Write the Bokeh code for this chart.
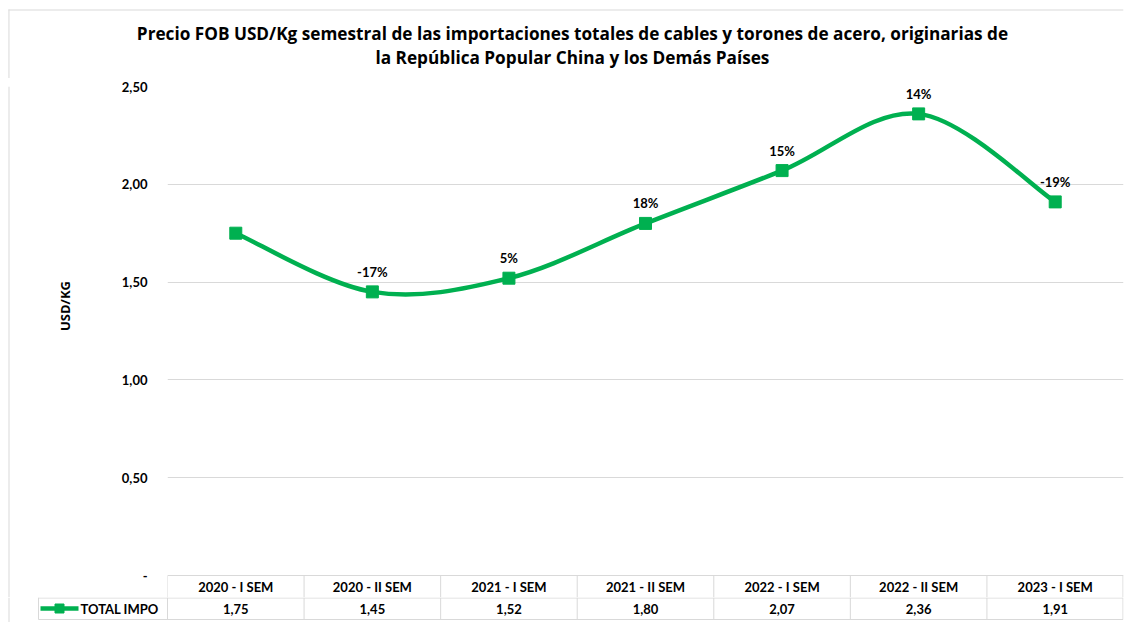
import math
from bokeh.plotting import figure
from bokeh.layouts import column, row
from bokeh.models import Range1d, FixedTicker, CustomJSTickFormatter, ColumnDataSource
from bokeh.embed import file_html
from bokeh.resources import INLINE
from bokeh.core.properties import value

# ---------------- data ----------------
categories = ["2020 - I SEM", "2020 - II SEM", "2021 - I SEM", "2021 - II SEM",
              "2022 - I SEM", "2022 - II SEM", "2023 - I SEM"]
values = [1.75, 1.45, 1.52, 1.80, 2.07, 2.36, 1.91]
changes = ["", "-17%", "5%", "18%", "15%", "14%", "-19%"]
series_name = "TOTAL IMPO"
y_ticks = [0.0, 0.5, 1.0, 1.5, 2.0, 2.5]
title_lines = ["Precio FOB USD/Kg semestral de las importaciones totales de cables y torones de acero, originarias de",
               "la República Popular China y los Demás Países"]
y_label = "USD/KG"

# ---------------- style ----------------
FONT = "Lato"
TFONT = "Open Sans"
GREEN = "#00B050"
GRID = "#d9d9d9"
TXT = "#000000"

TOTAL_W = 1128
TITLE_H = 78
MAIN_H = 519
TABLE_H = 25
YLAB_W = 88
FRAME_L, FRAME_R = 167, 1123
n = len(categories)
CW = (FRAME_R - FRAME_L) / n              # px per category
PLOT_PX = 489                             # px from 2.5 down to 0
PX = y_ticks[-1] / PLOT_PX                # data units per px
TOP_PAD = 8
main_frame_h = MAIN_H - TOP_PAD
y_start = -(main_frame_h - PLOT_PX) * PX
HDR_Y = y_start / 2

fmt_vals = [f"{v:.2f}".replace(".", ",") for v in values]


def bare(fig):
    fig.outline_line_color = None
    fig.background_fill_color = "white"
    fig.border_fill_color = "white"
    fig.xgrid.visible = False
    fig.ygrid.visible = False
    return fig


# ---------------- title strip ----------------
pt = bare(figure(width=TOTAL_W, height=TITLE_H, output_backend="svg", toolbar_location=None,
                 x_range=Range1d(0, TOTAL_W), y_range=Range1d(TITLE_H, 0),
                 x_axis_location=None, y_axis_location=None, min_border=0))
pt.text(x=[574.5, 574.5], y=[32.5, 56.5], text=title_lines, text_align="center",
        text_baseline="middle", text_font=value(TFONT), text_font_style="bold",
        text_font_size="17.2px", text_color=TXT)
pt.segment(x0=[8.5, 8], y0=[9, 9.5], x1=[8.5, TOTAL_W], y1=[TITLE_H, 9.5],
           line_color=GRID, line_width=1)

# ---------------- y-axis title strip ----------------
py = bare(figure(width=YLAB_W, height=MAIN_H, output_backend="svg", toolbar_location=None,
                 x_range=Range1d(0, YLAB_W), y_range=Range1d(MAIN_H, 0),
                 x_axis_location=None, y_axis_location=None, min_border=0))
py.text(x=[64], y=[301 - TITLE_H], text=[y_label], angle=math.pi / 2, text_align="center",
        text_baseline="middle", text_font=value(TFONT), text_font_style="bold",
        text_font_size="13px", text_color=TXT)
py.segment(x0=[8.5], y0=[0], x1=[8.5], y1=[MAIN_H], line_color=GRID, line_width=1)

# ---------------- main plot ----------------
xs = list(range(n))
p = bare(figure(width=TOTAL_W - YLAB_W, height=MAIN_H, output_backend="svg",
                toolbar_location=None, x_range=Range1d(-0.5, n - 0.5),
                y_range=Range1d(y_start, y_ticks[-1]), x_axis_location=None,
                min_border_left=FRAME_L - YLAB_W, min_border_right=TOTAL_W - FRAME_R,
                min_border_top=TOP_PAD, min_border_bottom=0))
p.ygrid.visible = True
ax = p.yaxis[0]
ax.ticker = FixedTicker(ticks=y_ticks)
ax.formatter = CustomJSTickFormatter(code="return tick == 0 ? '-' : tick.toFixed(2).replace('.', ',');")
ax.axis_line_color = None
ax.major_tick_line_color = None
ax.minor_tick_line_color = None
ax.major_label_standoff = 14
ax.major_label_text_font = FONT
ax.major_label_text_font_style = "bold"
ax.major_label_text_font_size = "13px"
ax.major_label_text_color = TXT
p.ygrid.grid_line_color = GRID
p.ygrid.grid_line_width = 1

# smooth curve (Catmull-Rom style Bezier through the data points)
x0, y0, x1, y1, cx0, cy0, cx1, cy1 = [], [], [], [], [], [], [], []
for i in range(n - 1):
    pa = (xs[i - 1], values[i - 1]) if i > 0 else (xs[i], values[i])
    pb = (xs[i], values[i])
    pc = (xs[i + 1], values[i + 1])
    pd = (xs[i + 2], values[i + 2]) if i + 2 < n else (xs[i + 1], values[i + 1])
    x0.append(pb[0]); y0.append(pb[1]); x1.append(pc[0]); y1.append(pc[1])
    cx0.append(pb[0] + (pc[0] - pa[0]) / 6); cy0.append(pb[1] + (pc[1] - pa[1]) / 6)
    cx1.append(pc[0] - (pd[0] - pb[0]) / 6); cy1.append(pc[1] - (pd[1] - pb[1]) / 6)
p.bezier(x0=x0, y0=y0, x1=x1, y1=y1, cx0=cx0, cy0=cy0, cx1=cx1, cy1=cy1,
         line_color=GREEN, line_width=4.5, line_cap="round")
src = ColumnDataSource(dict(x=xs, y=values, chg=changes))
p.scatter("x", "y", source=src, marker="square", size=12, fill_color=GREEN, line_color=GREEN)
p.text("x", "y", text="chg", source=src, y_offset=-20, text_align="center",
       text_baseline="middle", text_font=value(FONT), text_font_style="bold",
       text_font_size="13px", text_color=TXT)

# data table: header row (inside the main plot, below the 0 line)
vx = [k - 0.5 for k in range(n + 1)]
vx[-1] -= 0.5 / CW
p.segment(x0=vx, y0=[0] * (n + 1), x1=vx, y1=[y_start] * (n + 1), line_color=GRID, line_width=1)
hdr = ColumnDataSource(dict(x=xs, y=[HDR_Y] * n, t=categories))
p.text("x", "y", text="t", source=hdr, text_align="center", text_baseline="middle",
       text_font=value(FONT), text_font_style="bold", text_font_size="13px", text_color=TXT)

# data table: value row
def xd(px):
    """layout pixel -> category units for the table strip"""
    return -0.5 + (px - FRAME_L) / CW


pb_ = bare(figure(width=TOTAL_W, height=TABLE_H, output_backend="svg", toolbar_location=None,
                  x_range=Range1d(xd(0), n - 0.5), y_range=Range1d(TABLE_H, 0),
                  x_axis_location=None, y_axis_location=None,
                  min_border_left=0, min_border_right=TOTAL_W - FRAME_R,
                  min_border_top=0, min_border_bottom=0))
ROW_END = 22
cell_l = xd(38)
vx2 = vx + [cell_l]
pb_.segment(x0=vx2, y0=[0] * len(vx2), x1=vx2, y1=[ROW_END] * len(vx2),
            line_color=GRID, line_width=1)
pb_.segment(x0=[cell_l, cell_l], y0=[0.5, ROW_END], x1=[vx[-1], vx[-1]], y1=[0.5, ROW_END],
            line_color=GRID, line_width=1)
pb_.segment(x0=[xd(8.5)], y0=[0], x1=[xd(8.5)], y1=[TABLE_H], line_color=GRID, line_width=1)
vals = ColumnDataSource(dict(x=xs, y=[11] * n, t=fmt_vals))
pb_.text("x", "y", text="t", source=vals, text_align="center", text_baseline="middle",
         text_font=value(FONT), text_font_style="bold", text_font_size="13px", text_color=TXT)
# legend key of the series
pb_.segment(x0=[xd(40)], y0=[11], x1=[xd(78)], y1=[11], line_color=GREEN, line_width=4.5)
pb_.scatter(x=[xd(59)], y=[11], marker="square", size=9, fill_color=GREEN, line_color=GREEN)
pb_.text(x=[xd(80)], y=[11], text=[series_name], text_align="left", text_baseline="middle",
         text_font=value(FONT), text_font_style="bold", text_font_size="13px", text_color=TXT)

layout = column(pt, row(py, p), pb_)
open("out.html", "w").write(file_html(layout, INLINE))
